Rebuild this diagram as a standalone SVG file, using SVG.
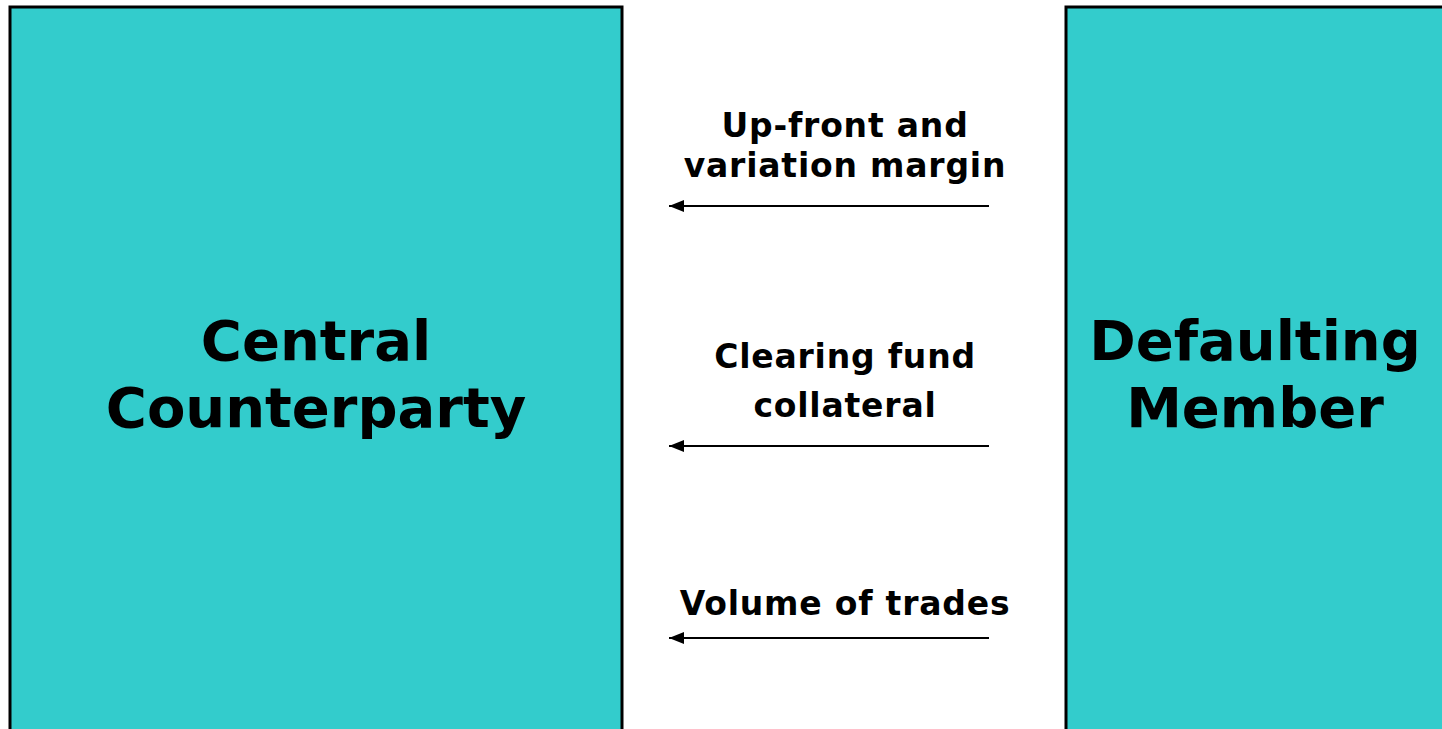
<svg xmlns="http://www.w3.org/2000/svg" width="1442" height="729" viewBox="0 0 1442 729">
<style>
.box{fill:#33CCCC;stroke:#000;stroke-width:3}
.big{font-family:"DejaVu Sans",Verdana,sans-serif;font-weight:bold;font-size:56px;fill:#000;text-anchor:middle}
.lbl{font-family:"DejaVu Sans",Verdana,sans-serif;font-weight:bold;font-size:33px;letter-spacing:0.8px;fill:#000;text-anchor:middle}
.arr{stroke:#000;stroke-width:2;fill:none;marker-end:url(#ah)}
</style>
<defs>
<marker id="ah" markerWidth="16" markerHeight="12" refX="15" refY="6" orient="auto" markerUnits="userSpaceOnUse">
<path d="M0,0 L15,6 L0,12 Z" fill="#000"/>
</marker>
</defs>
<rect width="1442" height="729" fill="#fff"/>
<g id="ccp">
<rect class="box" x="10" y="7" width="612" height="740"/>
<text class="big" x="316" y="360">Central</text>
<text class="big" x="316" y="427">Counterparty</text>
</g>
<g id="member">
<rect class="box" x="1066" y="7" width="400" height="740"/>
<text class="big" x="1255" y="360">Defaulting</text>
<text class="big" x="1255" y="427">Member</text>
</g>
<g id="connectors">
<line class="arr" x1="989" y1="206" x2="669" y2="206"/>
<line class="arr" x1="989" y1="446" x2="669" y2="446"/>
<line class="arr" x1="989" y1="638" x2="669" y2="638"/>
</g>
<g id="labels">
<text class="lbl" x="845" y="137">Up-front and</text>
<text class="lbl" x="845" y="177">variation margin</text>
<text class="lbl" x="845" y="368">Clearing fund</text>
<text class="lbl" x="845" y="417">collateral</text>
<text class="lbl" x="845" y="615">Volume of trades</text>
</g>
</svg>
